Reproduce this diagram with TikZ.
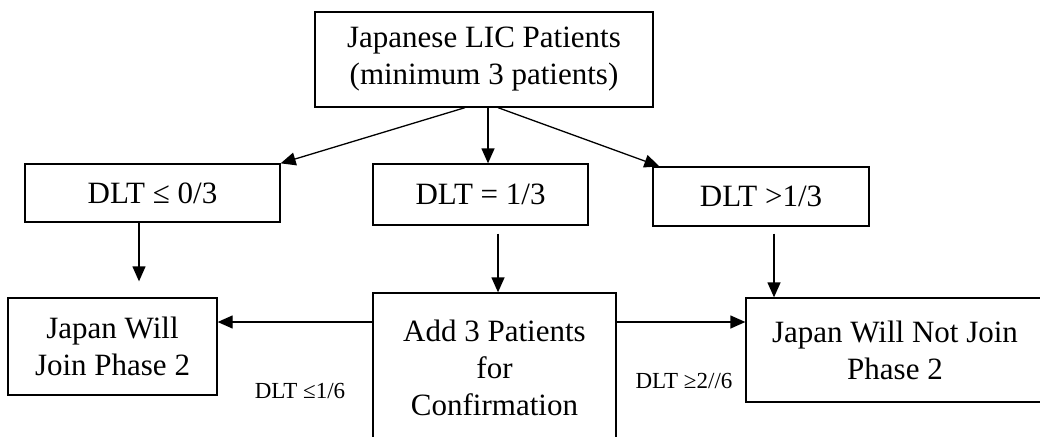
\documentclass[tikz,border=0pt]{standalone}
\usepackage{fontspec}
\setmainfont{Liberation Serif}
\usepackage{tikz}
\usetikzlibrary{arrows.meta}

\begin{document}
\begin{tikzpicture}[x=1pt,y=-1pt,
  box/.style={draw,line width=1.3pt,align=center,inner sep=0pt,
    font=\fontsize{31}{37}\selectfont},
  arr/.style={line width=1.3pt,-{Triangle[length=15pt,width=13pt]}},
  lbl/.style={inner sep=0pt,font=\fontsize{23}{28}\selectfont}]
\useasboundingbox (0,0) rectangle (1040,436);
\clip (0,0) rectangle (1040,436);
% boxes
\node[box,minimum width=338pt,minimum height=95pt] (top) at (484,59.5)
  {Japanese LIC Patients\\(minimum 3 patients)};
\node[box,minimum width=255pt,minimum height=58pt] (le) at (152.5,193) {DLT ≤ 0/3};
\node[box,minimum width=215pt,minimum height=61pt] (eq) at (480.5,194.5) {DLT = 1/3};
\node[box,minimum width=216pt,minimum height=59pt] (gt) at (761,196.5) {DLT >1/3};
\node[box,minimum width=209pt,minimum height=97pt] (join) at (112.5,346.5)
  {Japan Will\\Join Phase 2};
\node[box,minimum width=243pt,minimum height=150pt] (add) at (494.5,368)
  {Add 3 Patients\\for\\Confirmation};
\node[box,minimum width=298pt,minimum height=104pt] (nojoin) at (895,350)
  {Japan Will Not Join\\Phase 2};
% labels
\node[lbl] (l1) at (300,391) {DLT ≤1/6};
\node[lbl] (l2) at (684,381) {DLT ≥2//6};
% arrows
\draw[arr] ([xshift=-19pt]top.south) -- (le.north east);
\draw[arr] ([xshift=4pt]top.south) -- ([xshift=7.5pt]eq.north);
\draw[arr] ([xshift=14pt]top.south) -- ([xshift=7pt]gt.north west);
\draw[arr,shorten >=16pt] ([xshift=-13.5pt]le.south) -- ([xshift=-13.5pt]le.south |- join.north);
\draw[arr,shorten <=8pt] ([xshift=17.5pt]eq.south) -- ([xshift=17.5pt]eq.south |- add.north);
\draw[arr,shorten <=7pt] ([xshift=13pt]gt.south) -- ([xshift=13pt]gt.south |- nojoin.north);
\coordinate (mid) at ([yshift=46pt]add.west);
\draw[arr] (mid) -- (mid -| join.east);
\draw[arr] (mid -| add.east) -- (mid -| nojoin.west);
\end{tikzpicture}
\end{document}
